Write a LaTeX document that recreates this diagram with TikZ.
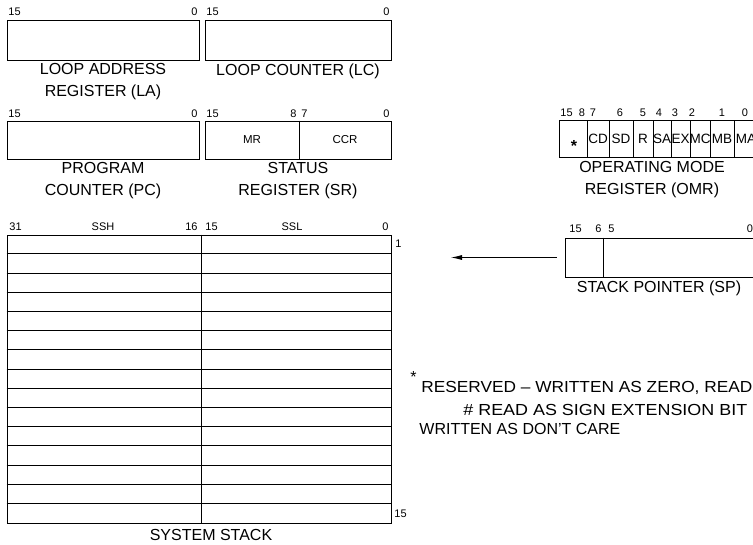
\documentclass[tikz,border=0pt]{standalone}
\usepackage{fontspec}
\setmainfont{Liberation Sans}
\usetikzlibrary{positioning,arrows.meta}

\begin{document}
\begin{tikzpicture}[x=1pt,y=-1pt,line width=0.8pt,
    reg/.style={draw,inner sep=0pt,minimum height=39pt},
    bit/.style={inner sep=0pt,font=\fontsize{11}{13}\selectfont},
    lbl/.style={inner sep=0pt,align=center,font=\fontsize{16}{22}\selectfont},
    cell/.style={inner sep=0pt,font=\fontsize{13.5}{15}\selectfont}]
    \path[use as bounding box,fill=white] (0,0) rectangle (753,544);

    % loop registers
    \node[reg,minimum width=192pt,minimum height=40pt] (la) at (103,40) {};
    \node[reg,minimum width=186pt,minimum height=40pt] (lc) at (298,40) {};
    \node[bit,anchor=west] (la15) at (8,12) {15};
    \node[bit,anchor=east] (la0) at (198,12) {0};
    \node[bit,anchor=west] (lc15) at (206,12) {15};
    \node[bit,anchor=east] (lc0) at (390,12) {0};
    \node[lbl,below=3pt of la] (lalbl) {LOOP ADDRESS\\REGISTER (LA)};
    \node[lbl,below=3pt of lc] (lclbl) {LOOP COUNTER (LC)};

    % program counter and status register
    \node[reg,minimum width=192pt,minimum height=38pt] (pc) at (103,140) {};
    \node[reg,minimum width=186pt,minimum height=38pt] (sr) at (298,140) {};
    \draw (299,0 |- sr.north) -- (299,0 |- sr.south);
    \node[bit,anchor=west] (pc15) at (8,114) {15};
    \node[bit,anchor=east] (pc0) at (198,114) {0};
    \node[bit,anchor=west] (sr15) at (206,114) {15};
    \node[bit,anchor=east] (sr8) at (297,114) {8};
    \node[bit,anchor=west] (sr7) at (301,114) {7};
    \node[bit,anchor=east] (sr0) at (390,114) {0};
    \node[bit,font=\fontsize{11.5}{13}\selectfont] (mr) at (252,140) {MR};
    \node[bit,font=\fontsize{11.5}{13}\selectfont] (ccr) at (345,140) {CCR};
    \node[lbl,below=3pt of pc] (pclbl) {PROGRAM\\COUNTER (PC)};
    \node[lbl,below=3pt of sr] (srlbl) {STATUS\\REGISTER (SR)};

    % operating mode register
    \node[reg,minimum width=201pt,minimum height=37pt] (omr) at (659.5,139) {};
    \foreach \x in {587,609,633,653,671,690,710,734}
        \draw (\x,0 |- omr.north) -- (\x,0 |- omr.south);
    \node[cell,font=\bfseries\fontsize{16}{16}\selectfont] (res) at (574,146) {*};
    \foreach \t/\x in {CD/598,SD/621,R/643,SA/662,EX/680.5,MC/700,MB/722,MA/746}
        \node[cell] (omr\t) at (\x,139) {\t};
    \node[bit,anchor=west] (omr15) at (560,113) {15};
    \foreach \b/\x in {8/582,7/593,6/620,5/643,4/659,3/675,2/692,1/722,0/745}
        \node[bit] (omrb\b) at (\x,113) {\b};
    \node[lbl,anchor=north] (omrlbl) at (652,161) {OPERATING MODE\\REGISTER (OMR)};

    % system stack
    \node[reg,minimum width=384pt,minimum height=288pt] (ss) at (199,379) {};
    \draw (201,0 |- ss.north) -- (201,0 |- ss.south);
    \foreach \i in {1,...,14}
        \draw ([yshift=-19.2*\i pt]ss.north west) -- ([yshift=-19.2*\i pt]ss.north east);
    \node[bit,anchor=west] (ss31) at (9,227) {31};
    \node[bit] (ssh) at (103,227) {SSH};
    \node[bit,anchor=east] (ss16) at (198,227) {16};
    \node[bit,anchor=west] (ss15) at (205,227) {15};
    \node[bit] (ssl) at (292,227) {SSL};
    \node[bit,anchor=east] (ss0) at (389,227) {0};
    \node[bit,anchor=west] (top) at (395,244) {1};
    \node[bit,anchor=west] (bot) at (394,514) {15};
    \node[lbl,below=6pt of ss,xshift=12pt] (sslbl) {SYSTEM STACK};

    % stack pointer
    \node[reg,minimum width=215pt] (sp) at (672.5,257.5) {};
    \draw (603,0 |- sp.north) -- (603,0 |- sp.south);
    \node[bit,anchor=west] (sp15) at (569,229) {15};
    \node[bit,anchor=east] (sp6) at (602,229) {6};
    \node[bit,anchor=west] (sp5) at (608,229) {5};
    \node[bit] (sp0) at (750,229) {0};
    \node[lbl,anchor=north] (splbl) at (659,281) {STACK POINTER (SP)};
    \coordinate (sptip) at (451,257.5);
    \draw[-{Latex[length=11pt,width=5pt]}] ([xshift=-8pt]sp.west) -- (sptip);

    % notes
    \node[lbl,anchor=west] (star) at (410,377) {*};
    \node[lbl,anchor=west] (note1) at (421,388) {\scalebox{1.08}[1]{RESERVED – WRITTEN AS ZERO, READ}};
    \node[lbl,anchor=west] (note2) at (463,410) {\scalebox{1.12}[1]{\# READ AS SIGN EXTENSION BIT}};
    \node[lbl,anchor=west] (note3) at (419,429) {WRITTEN AS DON'T CARE};
\end{tikzpicture}
\end{document}
